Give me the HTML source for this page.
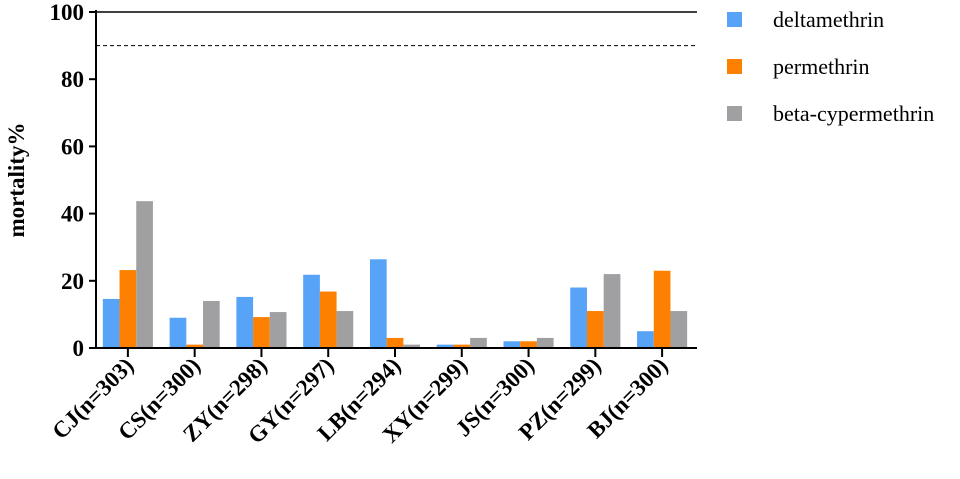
<!DOCTYPE html>
<html><head><meta charset="utf-8"><style>body{margin:0;background:#fff}svg{font-family:"Liberation Serif",serif}</style></head>
<body>
<svg id="chart" width="960" height="474"></svg>
<script>
const categories=["CJ(n=303)","CS(n=300)","ZY(n=298)","GY(n=297)","LB(n=294)","XY(n=299)","JS(n=300)","PZ(n=299)","BJ(n=300)"];
const deltamethrin=[14.6,9,15.2,21.8,26.4,1,2,18,5];
const permethrin=[23.2,1,9.2,16.8,3,1,2,11,23];
const beta=[43.7,14,10.7,11,1,3,3,22,11];
const yTicks=[0,20,40,60,80,100];
const seriesNames=["deltamethrin","permethrin","beta-cypermethrin"];
const colors=["#56a3f7","#fd8000","#a0a0a3"];
const svg=document.getElementById('chart');const NS="http://www.w3.org/2000/svg";
function mk(t,a,p){const e=document.createElementNS(NS,t);for(const k in a)e.setAttribute(k,a[k]);(p||svg).appendChild(e);return e;}
const x0=96,x1=697,yb=348,yt=12;
const y=v=>yb-(v/100)*(yb-yt);
const gw=(x1-x0)/categories.length;
const cx=i=>x0+gw*(i+0.5)-1.5;
const bw=16.7;
const series=[deltamethrin,permethrin,beta];
series.forEach((s,si)=>s.forEach((v,i)=>{
 const r=mk('rect',{x:cx(i)-1.5*bw+si*bw,y:y(v),width:bw,height:yb-y(v),fill:colors[si]});
 
 
}));
let e=mk('line',{x1:x0,y1:y(100),x2:x1,y2:y(100),stroke:'#000','stroke-width':1.5});

e=mk('line',{x1:x0,y1:y(90),x2:x1,y2:y(90),stroke:'#000','stroke-width':1,'stroke-dasharray':'4,3'});

e=mk('line',{x1:x0,y1:yt-2,x2:x0,y2:yb+1,stroke:'#000','stroke-width':2});

e=mk('line',{x1:x0-1,y1:yb,x2:x1,y2:yb,stroke:'#000','stroke-width':2});

yTicks.forEach(v=>{
 mk('line',{x1:x0-7,y1:y(v),x2:x0,y2:y(v),stroke:'#000','stroke-width':2});
 const t=mk('text',{x:x0-12,y:y(v)+8,'text-anchor':'end','font-size':23,'font-weight':'bold'});t.textContent=v;
 
});
categories.forEach((c,i)=>{
 const xx=cx(i);
 mk('line',{x1:xx,y1:yb,x2:xx,y2:yb+9,stroke:'#000','stroke-width':2});
 const t=mk('text',{x:xx+7,y:yb+19,'text-anchor':'end','font-size':23,'font-weight':'bold',transform:`rotate(-45 ${xx+7} ${yb+19})`});t.textContent=c;
 
});
const yl=mk('text',{x:24,y:180,'text-anchor':'middle','font-size':23,'font-weight':'bold',transform:'rotate(-90 24 180)'});yl.textContent='mortality%';

seriesNames.forEach((n,i)=>{
 const g=mk('g',{});
 mk('rect',{x:727,y:12+i*47,width:15,height:15,fill:colors[i]},g);
 const t=mk('text',{x:773,y:27+i*47,'font-size':22},g);t.textContent=n;
});
</script>
</body></html>
